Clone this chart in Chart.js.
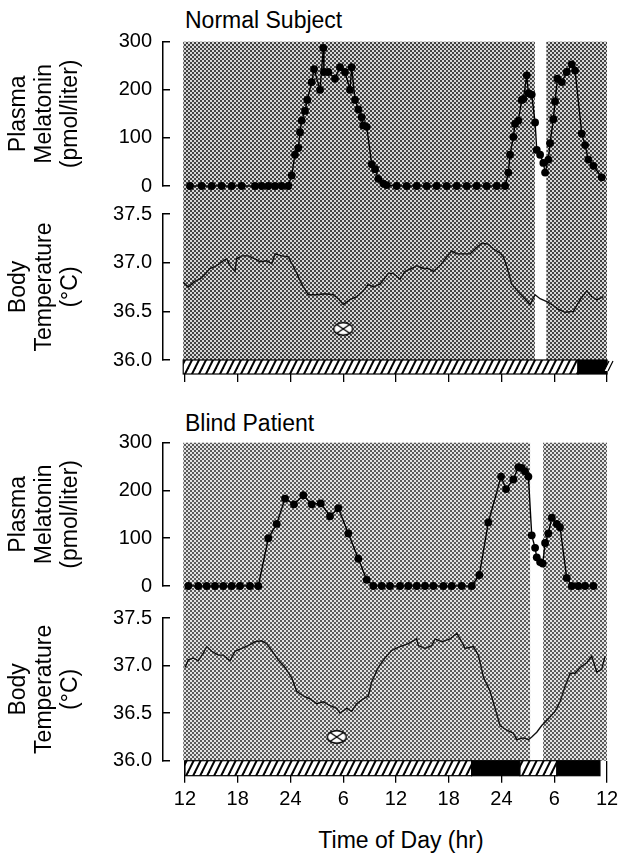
<!DOCTYPE html>
<html lang="en">
<head>
<meta charset="utf-8">
<title>Melatonin and body temperature</title>
<script src="https://cdn.jsdelivr.net/npm/chart.js@4.4.1/dist/chart.umd.min.js"></script>
<style>
  html, body { margin: 0; padding: 0; background: #fff; }
  body { position: relative; width: 619px; height: 854px; overflow: hidden;
         font-family: "Liberation Sans", Arial, sans-serif; color: #000; }
  canvas { position: absolute; left: 0; }
  .label { position: absolute; font-size: 23px; line-height: 23px; white-space: nowrap; }
</style>
</head>
<body>
<div class="label" style="left:185px; top:9px">Normal Subject</div>
<div class="label" style="left:185px; top:412px">Blind Patient</div>
<div class="label" style="left:291px; top:829px; width:220px; text-align:center">Time of Day (hr)</div>
<canvas id="normalMel" width="619" height="216" style="top:0"></canvas>
<canvas id="normalTemp" width="619" height="216" style="top:184px"></canvas>
<canvas id="blindMel" width="619" height="216" style="top:400px"></canvas>
<canvas id="blindTemp" width="619" height="266" style="top:588px"></canvas>
<script>
// hours counted from 12:00 on the first day
const tickHours = [0, 6, 12, 18, 24, 30, 36, 42, 48];
const tickLabels = ['12', '18', '24', '6', '12', '18', '24', '6', '12'];

// normal subject
const normalMelHours = [0.57, 1.90, 3.04, 4.17, 5.31, 6.45, 7.96, 8.73, 9.48, 10.24, 11.00, 11.75,
  12.14, 12.51, 12.89, 13.08, 13.28, 13.65, 13.91, 14.41, 14.68, 15.36, 15.73, 15.81, 16.30, 17.06,
  17.63, 18.20, 18.77, 18.96, 19.34, 19.72, 20.10, 20.28, 20.67, 21.24, 21.62, 21.99, 22.56,
  22.94, 24.08, 25.22, 26.36, 27.50, 28.63, 29.77, 30.91, 32.05, 33.18, 34.32, 35.46, 36.41,
  36.78, 36.97, 37.35, 37.54, 37.92, 38.30, 38.49, 38.87, 39.06, 39.44, 39.82, 40.01, 40.39, 40.76,
  40.96, 41.33, 41.52, 41.90, 42.09, 42.36, 42.86, 43.42, 43.99, 44.37, 45.13, 45.51, 45.88, 46.45, 47.40];
const normalMelValues = [0, 0, 0, 0, 0, 0, 0, 0, 0, 0, 0, 0,
  22, 65, 79, 112, 136, 156, 179, 216, 243, 200, 287, 237, 237, 223,
  247, 237, 200, 247, 179, 159, 143, 126, 123, 45, 35, 15, 5,
  2, 0, 0, 0, 0, 0, 0, 0, 0, 0, 0, 0, 0,
  28, 65, 102, 129, 136, 179, 181, 230, 193, 190, 132, 75, 65, 48,
  28, 55, 89, 139, 176, 223, 216, 237, 253, 240, 109, 85, 55, 42, 18];
const normalTempHours = [-0.2, 0.38, 1.14, 1.71, 2.28, 2.84, 3.61, 4.36, 4.74, 5.12, 5.69, 5.88,
  6.45, 7.20, 7.96, 8.53, 9.29, 9.86, 10.24, 11.00, 11.75, 12.51, 13.28, 14.03, 14.98, 15.93, 16.87,
  17.44, 18.01, 18.77, 19.53, 20.28, 20.85, 21.42, 22.18, 23.13, 23.70, 24.46, 25.03, 25.79, 26.36,
  27.11, 27.68, 28.25, 29.01, 29.77, 30.34, 30.91, 31.66, 32.42, 32.99, 33.75, 34.50, 35.07, 35.84,
  36.21, 36.60, 37.17, 37.92, 38.68, 39.25, 39.82, 40.39, 41.15, 41.72, 42.47, 43.23, 44.18, 44.94,
  45.70, 46.27, 46.84, 47.59];
const normalTempValues = [36.80, 36.75, 36.81, 36.83, 36.88, 36.94, 36.97, 37.02, 37.04, 36.97, 36.91, 37.04,
  37.07, 37.07, 37.04, 37.01, 37.02, 36.99, 37.09, 37.07, 37.06, 36.93, 36.78, 36.67, 36.67, 36.68, 36.67,
  36.63, 36.57, 36.62, 36.65, 36.71, 36.78, 36.75, 36.78, 36.89, 36.89, 36.83, 36.91, 36.94, 36.97,
  36.94, 36.94, 36.91, 36.97, 37.06, 37.12, 37.09, 37.09, 37.09, 37.14, 37.20, 37.19, 37.14, 37.10,
  37.06, 36.96, 36.78, 36.70, 36.63, 36.57, 36.67, 36.63, 36.60, 36.57, 36.52, 36.49, 36.50, 36.62,
  36.71, 36.65, 36.62, 36.65];
const normalMarker = [18.0, 36.32];
const normalShaded = [[-0.2, 39.8], [41.1, 48]];
const normalBar = [[-0.2, 44.7, 'light'], [44.7, 48, 'dark']];

// blind patient
const blindMelHours = [0.38, 1.51, 2.47, 3.41, 4.36, 5.31, 6.26, 7.39, 8.34,
  9.48, 10.43, 11.38, 12.40, 13.46, 14.41, 15.44, 16.50, 17.44, 18.58, 19.72, 20.67,
  21.42, 22.38, 23.32, 24.46, 25.40, 26.36, 27.30, 28.25, 29.39, 30.34, 31.48, 32.62,
  33.48, 34.50, 35.95, 36.52, 37.35, 37.92, 38.30, 38.68, 39.06, 39.44, 39.82, 40.01, 40.39, 40.69,
  40.96, 41.33, 41.72, 42.29, 42.66, 43.42, 43.99, 44.74, 45.51, 46.45];
const blindMelValues = [0, 0, 0, 0, 0, 0, 0, 0, 0,
  100, 130, 183, 171, 190, 171, 173, 146, 163, 110, 57, 13,
  0, 0, 0, 0, 0, 0, 0, 0, 0, 0, 0, 0,
  23, 133, 229, 203, 223, 249, 247, 240, 229, 106, 80, 60, 50, 47,
  90, 110, 143, 130, 123, 17, 0, 0, 0, 0];
const blindTempHours = [0, 0.38, 0.94, 1.51, 2.08, 2.47, 3.04, 3.79, 4.36, 5.12,
  5.69, 6.45, 7.20, 7.96, 8.73, 9.29, 9.86, 10.61, 11.38, 12.14,
  12.71, 13.46, 14.22, 14.98, 15.73, 16.50, 17.26, 17.63, 18.40, 18.96,
  19.53, 20.28, 20.85, 21.24, 21.99, 22.75, 23.52, 24.46, 25.40, 26.36,
  26.54, 27.30, 28.07, 28.44, 29.20, 30.15, 30.91, 31.48, 31.85, 32.80,
  33.37, 33.94, 34.70, 35.27, 35.84, 36.60, 37.35, 37.74, 38.49, 39.06,
  39.44, 40.01, 40.58, 41.33, 42.09, 42.66, 43.23, 43.80, 44.37, 44.94,
  45.70, 46.27, 46.84, 47.40, 47.78];
const blindTempValues = [36.98, 37.06, 37.08, 37.05, 37.13, 37.20, 37.15, 37.11, 37.11, 37.05,
  37.15, 37.18, 37.21, 37.25, 37.26, 37.23, 37.16, 37.06, 36.98, 36.87,
  36.73, 36.68, 36.65, 36.60, 36.62, 36.58, 36.55, 36.50, 36.55, 36.52,
  36.60, 36.65, 36.68, 36.83, 36.98, 37.08, 37.16, 37.20, 37.23, 37.28,
  37.21, 37.18, 37.21, 37.28, 37.25, 37.28, 37.34, 37.25, 37.18, 37.20,
  37.11, 36.88, 36.73, 36.55, 36.37, 36.32, 36.29, 36.22, 36.24, 36.22,
  36.25, 36.30, 36.37, 36.44, 36.52, 36.62, 36.78, 36.92, 36.92, 36.98,
  37.03, 37.10, 36.93, 36.96, 37.10];
const blindMarker = [17.26, 36.25];
const blindShaded = [[-0.2, 39.25], [40.73, 48]];
const blindBar = [[0, 32.6, 'light'], [32.6, 38.1, 'dark'], [38.1, 42.3, 'light'], [42.3, 47.2, 'dark']];

const X_MIN = -2.5; // leaves room between the y axis line and the first sample
const AXIS_WIDTH = 163;

Chart.defaults.font.family = '"Liberation Sans", Arial, sans-serif';
Chart.defaults.color = '#000';

function stippleTile(dark, light) {
  const c = document.createElement('canvas');
  c.width = 4; c.height = 4;
  const g = c.getContext('2d');
  g.fillStyle = light; g.fillRect(0, 0, 4, 4);
  g.fillStyle = dark; g.fillRect(0, 0, 2, 2); g.fillRect(2, 2, 2, 2);
  return c;
}

function hatchTile() {
  const c = document.createElement('canvas');
  c.width = 7; c.height = 14;
  const g = c.getContext('2d');
  g.fillStyle = '#fff'; g.fillRect(0, 0, 7, 14);
  g.strokeStyle = '#000'; g.lineWidth = 2;
  [-7, 0, 7].forEach(dx => {
    g.beginPath(); g.moveTo(dx - 1, 16); g.lineTo(dx + 8, -2); g.stroke();
  });
  return c;
}

function markerImage() {
  const c = document.createElement('canvas');
  c.width = 22; c.height = 16;
  const g = c.getContext('2d');
  g.fillStyle = '#fff'; g.strokeStyle = '#000'; g.lineWidth = 1.4;
  g.beginPath(); g.ellipse(11, 8, 9.5, 6.3, 0, 0, Math.PI * 2); g.fill(); g.stroke();
  g.beginPath();
  g.moveTo(4.3, 3.5); g.lineTo(17.7, 12.5);
  g.moveTo(4.3, 12.5); g.lineTo(17.7, 3.5);
  g.stroke();
  return c;
}

const topTile = stippleTile('#424242', '#d6d6d6');
const bottomTile = stippleTile('#5a5a5a', '#e2e2e2');
const hatch = hatchTile();
const marker = markerImage();

// shaded (dark) periods, light/dark bar along the time axis
function backdrop(cfg) {
  return {
    id: 'backdrop',
    beforeDatasetsDraw(chart) {
      const {ctx, chartArea, scales: {x}} = chart;
      const [y0, y1] = cfg.band(chartArea);
      ctx.save();
      ctx.fillStyle = ctx.createPattern(cfg.tile, 'repeat');
      cfg.shaded.forEach(([a, b]) => {
        const x0 = x.getPixelForValue(a), x1 = x.getPixelForValue(b);
        ctx.fillRect(x0, y0, x1 - x0, y1 - y0);
      });
      ctx.restore();
    },
    afterDraw(chart) {
      if (!cfg.bar) return;
      const {ctx, chartArea, scales: {x}} = chart;
      const y0 = chartArea.bottom, h = cfg.barHeight;
      const pattern = ctx.createPattern(hatch, 'repeat');
      ctx.save();
      ctx.strokeStyle = '#000';
      ctx.lineWidth = 1.2;
      cfg.bar.forEach(([a, b, kind]) => {
        const x0 = x.getPixelForValue(a), x1 = x.getPixelForValue(b);
        ctx.fillStyle = kind === 'dark' ? '#000' : pattern;
        ctx.fillRect(x0, y0, x1 - x0, h);
        ctx.strokeRect(x0, y0, x1 - x0, h);
      });
      if (cfg.breakMark) {
        const xr = x.getPixelForValue(48);
        ctx.fillStyle = '#fff';
        ctx.beginPath();
        ctx.moveTo(xr - 3, y0 + h - 3); ctx.lineTo(xr + 2, y0 + 1);
        ctx.lineTo(xr + 6, y0 + 1); ctx.lineTo(xr + 1, y0 + h - 3);
        ctx.closePath(); ctx.fill();
        ctx.beginPath();
        ctx.moveTo(xr - 3, y0 + h - 3); ctx.lineTo(xr + 2, y0 + 1);
        ctx.moveTo(xr + 1, y0 + h - 3); ctx.lineTo(xr + 6, y0 + 1);
        ctx.stroke();
      }
      ctx.restore();
    }
  };
}

function points(hours, values) {
  return hours.map((h, i) => ({x: h, y: values[i]}));
}

function melSet(hours, values) {
  return {
    data: points(hours, values),
    borderColor: '#000', borderWidth: 1.4,
    pointRadius: 3.9, pointBackgroundColor: '#000', pointBorderWidth: 0,
    tension: 0, clip: false
  };
}

function tempSet(hours, values) {
  return {
    data: points(hours, values),
    borderColor: '#111', borderWidth: 1.4, pointRadius: 0, tension: 0, clip: false
  };
}

function markerSet([h, v]) {
  return {data: [{x: h, y: v}], showLine: false, pointStyle: marker, pointRadius: 6, clip: false};
}

function yAxis(min, max, step, title, decimals) {
  const ticks = {stepSize: step, padding: 18, color: '#000', font: {size: 20}};
  if (decimals) ticks.callback = v => v.toFixed(decimals);
  return {
    min, max,
    afterFit: s => { s.width = AXIS_WIDTH; },
    border: {display: true, color: '#000', width: 1.5},
    grid: {drawOnChartArea: false, drawTicks: true, tickLength: -7, color: '#000', lineWidth: 1.5},
    ticks,
    title: {display: true, text: title, color: '#000',
            font: {size: 23, lineHeight: 1.13}, padding: {top: 6, bottom: 0}}
  };
}

function xAxis(showLabels, height) {
  return {
    type: 'linear', min: X_MIN, max: 48,
    afterBuildTicks: s => { s.ticks = tickHours.map(v => ({value: v})); },
    // fixed height, and the end labels may hang into the right margin
    afterFit: s => { s.height = height; s.paddingLeft = 0; s.paddingRight = 0; },
    border: {display: false},
    grid: {drawOnChartArea: false, drawTicks: true, tickLength: 22, color: '#000', lineWidth: 1.3},
    ticks: {display: showLabels, padding: 5, color: '#000', font: {size: 20},
            maxRotation: 0, autoSkip: false, callback: (v, i) => tickLabels[i]}
  };
}

function options(padTop, padBottom, scales) {
  return {
    responsive: false,
    animation: false,
    events: [],
    layout: {padding: {left: 0, right: 12, top: padTop, bottom: padBottom}},
    plugins: {legend: {display: false}, tooltip: {enabled: false}},
    scales
  };
}

const melTitle = ['Plasma', 'Melatonin', '(pmol/liter)'];
const tempTitle = ['Body', 'Temperature', '(\u00b0C)'];
const hiddenX = {type: 'linear', display: false, min: X_MIN, max: 48};

new Chart(document.getElementById('normalMel'), {
  type: 'line',
  data: {datasets: [melSet(normalMelHours, normalMelValues)]},
  options: options(41.7, 25.3, {x: hiddenX, y: yAxis(0, 300, 100, melTitle)}),
  plugins: [backdrop({shaded: normalShaded, tile: topTile, band: a => [a.top, 198]})]
});

new Chart(document.getElementById('normalTemp'), {
  type: 'line',
  data: {datasets: [markerSet(normalMarker), tempSet(normalTempHours, normalTempValues)]},
  options: options(22, 0, {x: xAxis(false, 40), y: yAxis(36, 37.5, 0.5, tempTitle, 1)}),
  plugins: [backdrop({shaded: normalShaded, tile: topTile, band: a => [14, a.bottom],
                      bar: normalBar, barHeight: 14, breakMark: true})]
});

new Chart(document.getElementById('blindMel'), {
  type: 'line',
  data: {datasets: [melSet(blindMelHours, blindMelValues)]},
  options: options(42.7, 22.7, {x: hiddenX, y: yAxis(0, 300, 100, melTitle)}),
  plugins: [backdrop({shaded: blindShaded, tile: bottomTile, band: a => [a.top, 201]})]
});

new Chart(document.getElementById('blindTemp'), {
  type: 'line',
  data: {datasets: [markerSet(blindMarker), tempSet(blindTempHours, blindTempValues)]},
  options: options(21.3, 0, {x: xAxis(true, 93.3), y: yAxis(36, 37.5, 0.5, tempTitle, 1)}),
  plugins: [backdrop({shaded: blindShaded, tile: bottomTile, band: a => [13, a.bottom],
                      bar: blindBar, barHeight: 15})]
});
</script>
</body>
</html>
